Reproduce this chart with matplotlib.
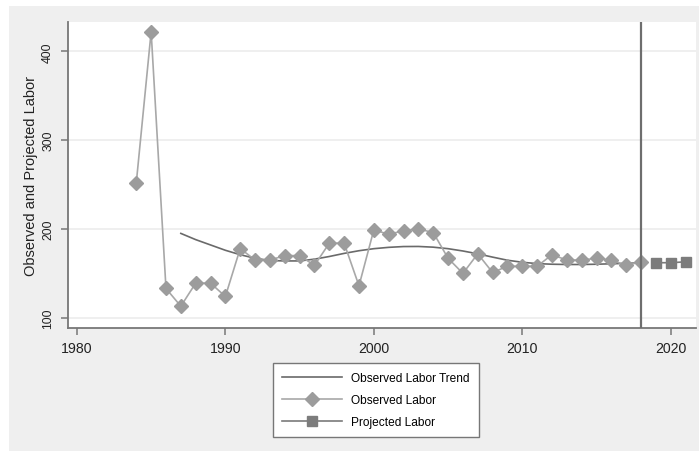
import matplotlib
matplotlib.use("Agg")
import matplotlib.pyplot as plt
from matplotlib.patches import Rectangle
from matplotlib.lines import Line2D

plt.rcParams['font.family'] = ['Liberation Sans', 'DejaVu Sans']

obs_years = list(range(1984, 2019))
obs_values = [252, 422, 133, 113, 139, 139, 124, 178, 165, 165, 170, 170, 159, 184, 184,
              136, 199, 194, 198, 200, 196, 167, 150, 172, 151, 158, 158, 158, 171, 165,
              165, 167, 165, 159, 163]
proj_years = [2019, 2020, 2021]
proj_values = [162, 162, 163]
trend_years = list(range(1987, 2019))
trend_values = [195, 188, 182, 176, 171, 167, 164.5, 164, 164, 166, 169, 172.5, 175.5, 177.8,
                179.3, 180.2, 180.3, 179.5, 177.8, 175.2, 172, 168.3, 164.8, 162.5, 161,
                160.3, 160, 160, 160.3, 160.8, 161.3, 161.8]
cutoff_year = 2018
x_ticks = [1980, 1990, 2000, 2010, 2020]
y_ticks = [100, 200, 300, 400]

W, H = 699, 452
fig = plt.figure(figsize=(W / 100, H / 100), dpi=100)
fig.patch.set_facecolor('white')
bg = Rectangle((9 / W, 0), 1 - 9 / W, (H - 7) / H, transform=fig.transFigure,
               facecolor='#efefef', edgecolor='none', zorder=-10)
fig.add_artist(bg)

ax = fig.add_axes([68 / W, (H - 329) / H, (696 - 68) / W, (329 - 23) / H])
ax.set_zorder(1)
ax.set_facecolor('white')
ax.set_xlim(1979.4, 2021.7)
ax.set_ylim(88.5, 433)

for y in y_ticks:
    ax.axhline(y, color='#ececec', lw=1.2, zorder=1)

ax.plot(trend_years, trend_values, color='#6a6a6a', lw=1.2, zorder=3)
ax.plot(obs_years, obs_values, color='#a8a8a8', lw=1.2, marker='D', ms=7,
        markerfacecolor='#9c9c9c', markeredgecolor='#9c9c9c', zorder=4)
ax.plot(proj_years, proj_values, color='#7a7a7a', lw=1.2, marker='s', ms=6.5,
        markerfacecolor='#7c7c7c', markeredgecolor='#7c7c7c', zorder=4)
ax.axvline(cutoff_year, color='#6e6e6e', lw=1.6, zorder=5)

for s in ['top', 'right']:
    ax.spines[s].set_visible(False)
for s in ['left', 'bottom']:
    ax.spines[s].set_color('#777777')
    ax.spines[s].set_linewidth(1.3)

ax.set_xticks(x_ticks)
ax.set_yticks(y_ticks)
ax.tick_params(axis='both', colors='#777777', length=5, width=1.1, labelcolor='#222222')
ax.tick_params(axis='x', labelsize=10.2, pad=4.5)
ax.tick_params(axis='y', labelsize=8.8, pad=5)
for lab in ax.get_yticklabels():
    lab.set_rotation(90)
    lab.set_va('center')
ax.set_ylabel('Observed and Projected Labor', fontsize=10.5, color='#222222', labelpad=3)

handles = [
    Line2D([], [], color='#6a6a6a', lw=1.2),
    Line2D([], [], color='#a8a8a8', lw=1.2, marker='D', ms=7,
           markerfacecolor='#9c9c9c', markeredgecolor='#9c9c9c'),
    Line2D([], [], color='#7a7a7a', lw=1.2, marker='s', ms=6.5,
           markerfacecolor='#7c7c7c', markeredgecolor='#7c7c7c'),
]
labels = ['Observed Labor Trend', 'Observed Labor', 'Projected Labor']
leg = fig.legend(handles, labels, loc='center', bbox_to_anchor=(376 / W, (H - 401) / H),
                 frameon=True, fancybox=False, framealpha=1, fontsize=8.6, handlelength=5.0,
                 handletextpad=0.75, labelspacing=0.85, borderpad=0.75, borderaxespad=0)
leg.get_frame().set_edgecolor('#777777')
leg.get_frame().set_linewidth(1.0)
leg.get_frame().set_facecolor('white')

fig.savefig('out.png', dpi=100)
